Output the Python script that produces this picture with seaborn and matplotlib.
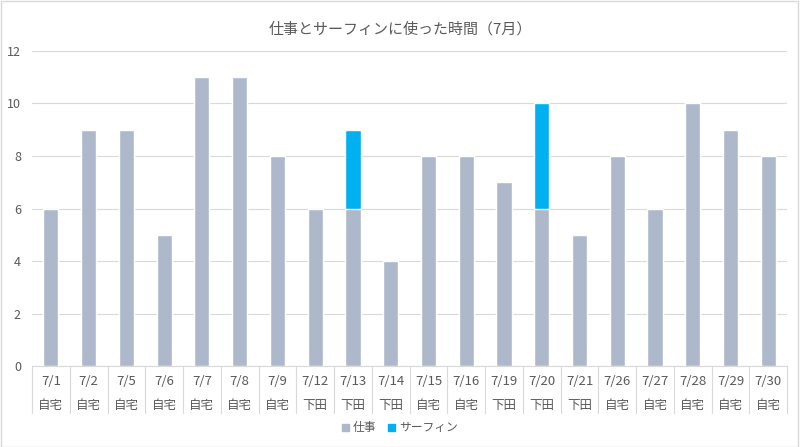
import seaborn as sns
import matplotlib.pyplot as plt
import matplotlib.transforms as mtransforms
from matplotlib.patches import Rectangle
import pandas as pd
import numpy as np

sns.set_style("white")
plt.rcParams['font.family'] = ['Noto Sans CJK JP', 'DejaVu Sans']

dates = ["7/1", "7/2", "7/5", "7/6", "7/7", "7/8", "7/9", "7/12", "7/13", "7/14",
         "7/15", "7/16", "7/19", "7/20", "7/21", "7/26", "7/27", "7/28", "7/29", "7/30"]
places = ["自宅", "自宅", "自宅", "自宅", "自宅", "自宅", "自宅", "下田", "下田", "下田",
          "自宅", "自宅", "下田", "下田", "下田", "自宅", "自宅", "自宅", "自宅", "自宅"]
work = [6, 9, 9, 5, 11, 11, 8, 6, 6, 4, 8, 8, 7, 6, 5, 8, 6, 10, 9, 8]
surf = [0, 0, 0, 0, 0, 0, 0, 0, 3, 0, 0, 0, 0, 4, 0, 0, 0, 0, 0, 0]

df = pd.DataFrame({"date": dates, "place": places, "work": work, "surf": surf})
df["total"] = df["work"] + df["surf"]

work_color = "#ADB9CA"
surf_color = "#00B0F0"
text_color = "#595959"
line_color = "#D9D9D9"

fig = plt.figure(figsize=(8, 4.47), dpi=100)
ax = fig.add_axes([0.04, 0.181, 0.944, 0.705])

# stacked: draw totals first, then work on top
sns.barplot(data=df, x="date", y="total", color=surf_color, width=0.4,
            saturation=1, ax=ax, zorder=2)
sns.barplot(data=df, x="date", y="work", color=work_color, width=0.4,
            saturation=1, ax=ax, zorder=3)

ax.set_ylim(0, 12)
ax.set_yticks(range(0, 13, 2))
ax.set_xlim(-0.5, len(dates) - 0.5)
ax.yaxis.grid(True, color=line_color, linewidth=0.8, zorder=0)
ax.set_axisbelow(True)
for s in ["top", "right", "left"]:
    ax.spines[s].set_visible(False)
ax.spines["bottom"].set_color(line_color)
ax.spines["bottom"].set_linewidth(0.8)
ax.tick_params(axis="y", colors=text_color, labelsize=9, length=0, pad=8)
ax.set_xticks([])
ax.set_xlabel("")
ax.set_ylabel("")

# two-level category labels
trans = mtransforms.blended_transform_factory(ax.transData, ax.transAxes)
for i, (d, p) in enumerate(zip(dates, places)):
    ax.text(i, -0.048, d, transform=trans, ha="center", va="center",
            fontsize=9.5, color=text_color)
    ax.text(i, -0.124, p, transform=trans, ha="center", va="center",
            fontsize=9, color=text_color)
for b in np.arange(-0.5, len(dates), 1.0):
    ax.plot([b, b], [0, -0.149], transform=trans, color=line_color,
            linewidth=0.8, clip_on=False)

fig.suptitle("仕事とサーフィンに使った時間（7月）", y=1 - 22 / 447,
             fontsize=10.8, color=text_color)

handles = [Rectangle((0, 0), 1, 1, color=work_color),
           Rectangle((0, 0), 1, 1, color=surf_color)]
fig.legend(handles, ["仕事", "サーフィン"], loc="center", ncol=2,
           bbox_to_anchor=(0.5, 1 - 428 / 447), frameon=False,
           fontsize=8.5, labelcolor=text_color, handlelength=0.6,
           handleheight=0.6, handletextpad=0.3, columnspacing=1.0)

fig.patches.append(Rectangle((0.001, 0.001), 0.997, 0.996, transform=fig.transFigure,
                             fill=False, edgecolor=line_color, linewidth=1))

fig.savefig("out.png", dpi=100)
